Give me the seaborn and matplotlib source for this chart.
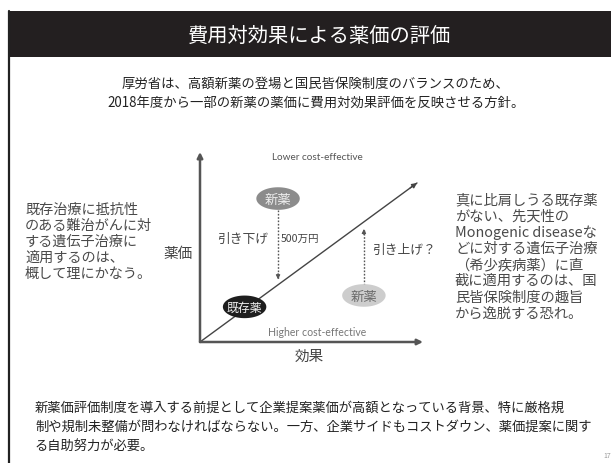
import numpy as np
import pandas as pd
import matplotlib
matplotlib.use("Agg")
import matplotlib.pyplot as plt
from matplotlib.path import Path
from matplotlib.patches import Rectangle
from matplotlib.lines import Line2D
import seaborn as sns

# ---------------- data / text ----------------
title = "費用対効果による薬価の評価"
subtitle_lines = [
    "厚労省は、高額新薬の登場と国民皆保険制度のバランスのため、",
    "2018年度から一部の新薬の薬価に費用対効果評価を反映させる方針。",
]
left_lines = [
    "既存治療に抵抗性",
    "のある難治がんに対",
    "する遺伝子治療に",
    "適用するのは、",
    "概して理にかなう。",
]
right_lines = [
    "真に比肩しうる既存薬",
    "がない、先天性の",
    "Monogenic diseaseな",
    "どに対する遺伝子治療",
    "（希少疾病薬）に直",
    "截に適用するのは、国",
    "民皆保険制度の趣旨",
    "から逸脱する恐れ。",
]
bottom_lines = [
    "新薬価評価制度を導入する前提として企業提案薬価が高額となっている背景、特に厳格規",
    "制や規制未整備が問わなければならない。一方、企業サイドもコストダウン、薬価提案に関す",
    "る自助努力が必要。",
]

x_label = "効果"
y_label = "薬価"
upper_label = "Lower cost-effective"
lower_label = "Higher cost-effective"

drug_labels = ["新薬", "既存薬", "新薬"]
drug_kind = ["overpriced", "existing", "underpriced"]
drug_effect = [3.5, 2.0, 7.35]
drug_price = [7.55, 1.85, 2.45]

parity_effect = [0.0, 9.73]
parity_price = [0.0, 8.37]

cut_label, cut_amount = "引き下げ", "500万円"
cut_effect = [3.5, 3.5]
cut_price = [6.95, 3.3]
raise_label = "引き上げ？"
raise_effect = [7.35, 7.35]
raise_price = [3.0, 5.95]

# ---------------- style ----------------
sns.set_theme(style="white")
plt.rcParams["font.family"] = ["Noto Sans CJK JP", "DejaVu Sans"]

W, H = 611, 464
fig = plt.figure(figsize=(W / 100, H / 100), dpi=100)
fig.patch.set_facecolor("white")

def fx(px):
    return px / W

def fy(py):
    return 1 - py / H

# title bar and left border
fig.patches.append(Rectangle((fx(8), fy(58)), 1 - fx(8), (58 - 12) / H,
                             transform=fig.transFigure, facecolor="#231f20",
                             edgecolor="none", zorder=0))
fig.lines.append(Line2D([fx(8.5), fx(8.5)], [0, fy(12)], transform=fig.transFigure,
                        color="#222222", lw=1.6))
fig.text(fx(320), fy(36), title, color="white", fontsize=14.6,
         ha="center", va="center")

fig.text(fx(316), fy(93), "\n".join(subtitle_lines), color="#222222", fontsize=9.6,
         ha="center", va="center", linespacing=1.45)

fig.text(fx(25), fy(242), "\n".join(left_lines), color="#4a4a4a", fontsize=10.2,
         ha="left", va="center", linespacing=1.2)
fig.text(fx(455), fy(257), "\n".join(right_lines), color="#4a4a4a", fontsize=10.3,
         ha="left", va="center", linespacing=1.18)
fig.text(fx(35), fy(427), "\n".join(bottom_lines), color="#222222", fontsize=9.55,
         ha="left", va="center", linespacing=1.47)
fig.text(fx(603), fy(456), "17", color="#999999", fontsize=5, ha="left", va="center")

# ---------------- diagram ----------------
ax = fig.add_axes([fx(200), fy(343), (423 - 200) / W, (343 - 153) / H])
ax.set_xlim(0, 10)
ax.set_ylim(0, 10)
ax.axis("off")

axis_col = "#555555"
ax.annotate("", xy=(0, 10), xytext=(0, 0),
            arrowprops=dict(arrowstyle="-|>", color=axis_col, lw=1.8,
                            mutation_scale=8, shrinkA=0, shrinkB=0), annotation_clip=False)
ax.annotate("", xy=(10, 0), xytext=(0, 0),
            arrowprops=dict(arrowstyle="-|>", color=axis_col, lw=1.8,
                            mutation_scale=8, shrinkA=0, shrinkB=0), annotation_clip=False)

# parity (cost-effectiveness) line
sns.lineplot(x=parity_effect, y=parity_price, ax=ax, color="#444444", lw=1.0,
             legend=False)
ax.annotate("", xy=(parity_effect[1], parity_price[1]),
            xytext=(parity_effect[1] - 0.3, parity_price[1] - 0.3 * parity_price[1] / parity_effect[1]),
            arrowprops=dict(arrowstyle="-|>", color="#444444", lw=1.0,
                            mutation_scale=7, shrinkA=0, shrinkB=0))

# dotted price arrows
ax.plot(cut_effect, cut_price, color="#555555", lw=1.0, ls=(0, (1.2, 1.2)))
ax.annotate("", xy=(cut_effect[1], cut_price[1]), xytext=(cut_effect[1], cut_price[1] + 0.3),
            arrowprops=dict(arrowstyle="-|>", color="#555555", lw=0.8,
                            mutation_scale=6, shrinkA=0, shrinkB=0))
ax.plot(raise_effect, raise_price, color="#555555", lw=1.0, ls=(0, (1.2, 1.2)))
ax.annotate("", xy=(raise_effect[1], raise_price[1]), xytext=(raise_effect[1], raise_price[1] - 0.3),
            arrowprops=dict(arrowstyle="-|>", color="#555555", lw=0.8,
                            mutation_scale=6, shrinkA=0, shrinkB=0))

# drug ellipses
t = np.linspace(0, 2 * np.pi, 60)
ellipse = Path(np.column_stack([np.cos(t), 0.52 * np.sin(t)]), closed=True)
df = pd.DataFrame({"effect": drug_effect, "price": drug_price,
                   "kind": drug_kind, "label": drug_labels})
fill = {"overpriced": "#8c8c8c", "existing": "#1e1e1e", "underpriced": "#cdcdcd"}
txt = {"overpriced": "#eeeeee", "existing": "#f0f0f0", "underpriced": "#6a6a6a"}
sns.scatterplot(data=df, x="effect", y="price", hue="kind", palette=fill,
                marker=ellipse, s=980, linewidth=0, ax=ax, legend=False, zorder=3)
for _, r in df.iterrows():
    ax.text(r["effect"], r["price"], r["label"], color=txt[r["kind"]],
            fontsize=9.6 if r["kind"] != "existing" else 8.6,
            ha="center", va="center", zorder=4)

ax.text(5.25, 9.74, upper_label, family=["Lato", "DejaVu Sans"], color="#555555",
        fontsize=7.2, ha="center", va="center")
ax.text(5.25, 0.53, lower_label, family=["Lato", "DejaVu Sans"], color="#777777",
        fontsize=7.6, ha="center", va="center")
ax.text(4.9, -0.74, x_label, color="#444444", fontsize=10.5, ha="center", va="center")
ax.text(-1.0, 4.68, y_label, color="#444444", fontsize=10.5, ha="center", va="center")
ax.text(1.9, 5.47, cut_label, color="#444444", fontsize=9.2, style="italic",
        ha="center", va="center")
ax.text(4.5, 5.47, cut_amount, color="#444444", fontsize=7.6, ha="center", va="center")
ax.text(9.15, 4.85, raise_label, color="#444444", fontsize=9.2, style="italic",
        ha="center", va="center")

fig.savefig("out.png", dpi=100)
